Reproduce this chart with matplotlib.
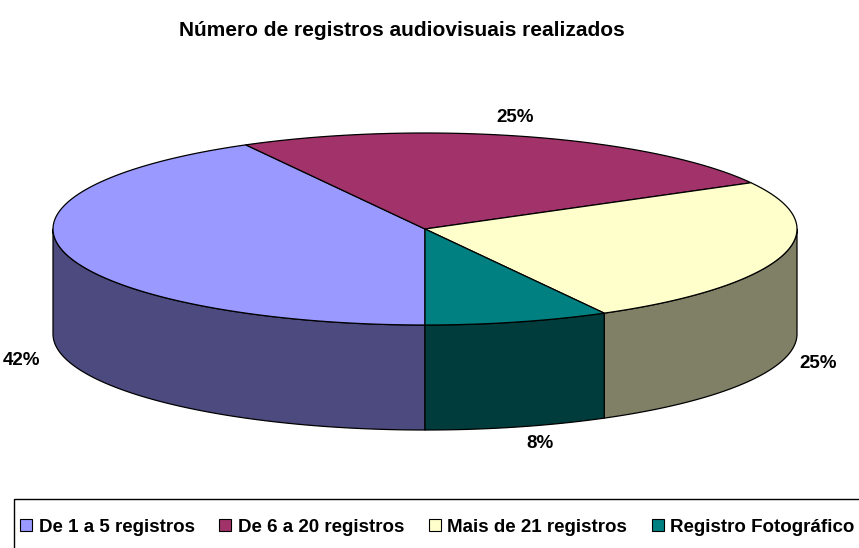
import numpy as np
import matplotlib
matplotlib.use('Agg')
import matplotlib.pyplot as plt
from matplotlib.patches import Polygon, Patch, Rectangle

plt.rcParams['font.family'] = ['Liberation Sans', 'DejaVu Sans']

categories = ["De 1 a 5 registros", "De 6 a 20 registros", "Mais de 21 registros", "Registro Fotográfico"]
values = [42, 25, 25, 8]
labels = ["42%", "25%", "25%", "8%"]
top_colors = ["#9999FF", "#A1336A", "#FFFFCC", "#008080"]
side_colors = ["#4D4A80", "#501A35", "#808066", "#003C3C"]
title = "Número de registros audiovisuais realizados"

# layout
W, H = 859, 548
cx, cy, a, b, depth = 425, 229, 372, 96, 105
start = 270
label_k = 1.12
label_nudge = [(0, 0), (-26, -8), (-7, 0), (11, 5)]
fs = 13.5

fig = plt.figure(figsize=(W / 100, H / 100), dpi=100)
ax = fig.add_axes([0, 0, 1, 1])
ax.set_xlim(0, W)
ax.set_ylim(H, 0)
ax.axis('off')

total = sum(values)
angles = [start]
for v in values:
    angles.append(angles[-1] - 360.0 * v / total)


def pt(th, dy=0.0, k=1.0):
    r = np.radians(th)
    return cx + k * a * np.cos(r), cy - k * b * np.sin(r) + dy


# side faces (front half only)
for i in range(len(values)):
    t0, t1 = angles[i], angles[i + 1]
    for kk in (-1, 0, 1):
        lo = max(t1, -180 + 360 * kk)
        hi = min(t0, 0 + 360 * kk)
        if hi > lo:
            ts = np.linspace(hi, lo, 80)
            top = [pt(t) for t in ts]
            bot = [pt(t, depth) for t in ts[::-1]]
            ax.add_patch(Polygon(top + bot, closed=True, facecolor=side_colors[i],
                                 edgecolor='black', linewidth=0.9, joinstyle='round'))

# top faces
for i in range(len(values)):
    t0, t1 = angles[i], angles[i + 1]
    ts = np.linspace(t0, t1, 120)
    poly = [(cx, cy)] + [pt(t) for t in ts]
    ax.add_patch(Polygon(poly, closed=True, facecolor=top_colors[i],
                         edgecolor='black', linewidth=0.9, joinstyle='round'))

# data labels
for i in range(len(values)):
    mid = (angles[i] + angles[i + 1]) / 2
    dy = depth if np.sin(np.radians(mid)) < 0 else 0
    x, y = pt(mid, dy, label_k)
    ax.text(x + label_nudge[i][0], y + label_nudge[i][1], labels[i], ha='center', va='center',
            fontsize=fs, fontweight='bold', color='black')

# title
fig.text(402 / W, 1 - 31 / H, title, ha='center', va='center', fontsize=15, fontweight='bold')

# legend frame
ax.add_patch(Rectangle((14, 499), 900, 100, fill=False, edgecolor='black', linewidth=1.0, clip_on=False))

handles = [Patch(facecolor=c, edgecolor='black', linewidth=0.8) for c in top_colors]
fig.legend(handles, categories, ncol=4, loc='center left',
           bbox_to_anchor=(20 / W, 1 - 527 / H), frameon=False,
           prop={'family': 'Liberation Sans', 'weight': 'bold', 'size': fs},
           handlelength=0.65, handleheight=0.65, handletextpad=0.35,
           columnspacing=1.3, borderpad=0, borderaxespad=0)

fig.savefig('out.png', dpi=100)
